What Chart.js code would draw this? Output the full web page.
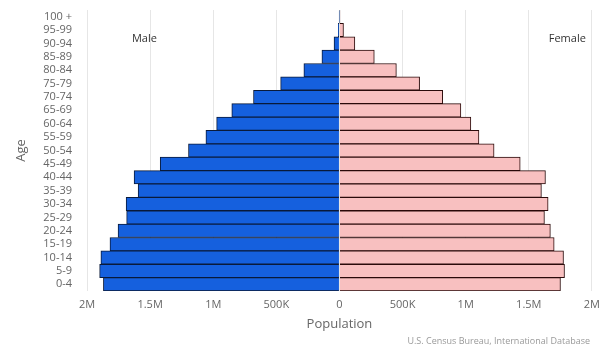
<!DOCTYPE html>
<html>
<head>
<meta charset="utf-8">
<script src="https://cdn.jsdelivr.net/npm/chart.js@4/dist/chart.umd.min.js"></script>
<style>
html,body{margin:0;padding:0;background:#fff;}
#wrap{position:relative;width:600px;height:350px;}
</style>
</head>
<body>
<div id="wrap"><canvas id="c" width="600" height="350"></canvas></div>
<script>
const ageGroups = ['100 +','95-99','90-94','85-89','80-84','75-79','70-74','65-69','60-64','55-59','50-54','45-49','40-44','35-39','30-34','25-29','20-24','15-19','10-14','5-9','0-4'];
const maleValues = [1500, 9000, 43000, 139000, 282000, 466000, 681000, 853000, 973000, 1058000, 1196000, 1420000, 1627000, 1595000, 1690000, 1686000, 1754000, 1818000, 1890000, 1900000, 1870000];
const femaleValues = [4000, 32000, 122000, 276000, 451000, 635000, 818000, 962000, 1041000, 1105000, 1225000, 1432000, 1632000, 1600000, 1653000, 1624000, 1671000, 1701000, 1775000, 1783000, 1751000];
const xTickValues = [-2000000,-1500000,-1000000,-500000,0,500000,1000000,1500000,2000000];
const seriesNames = ['Male','Female'];
const sourceText = 'U.S. Census Bureau, International Database';

const FONT = "'Open Sans', 'DejaVu Sans', sans-serif";

function fmt(v){
  const a = Math.abs(v);
  if (a === 0) return '0';
  if (a >= 1000000) return (a/1000000) + 'M';
  return (a/1000) + 'K';
}

const annotations = {
  id: 'annotations',
  afterDraw(chart){
    const ctx = chart.ctx;
    const xs = chart.scales.x;
    const area = chart.chartArea;
    ctx.save();
    ctx.font = "11px " + FONT;
    ctx.fillStyle = '#333';
    ctx.textAlign = 'center';
    ctx.textBaseline = 'middle';
    ctx.fillText(seriesNames[0], xs.getPixelForValue(-1545000), area.top + 29);
    ctx.fillText(seriesNames[1], xs.getPixelForValue(1805000), area.top + 29);
    ctx.font = "9px " + FONT;
    ctx.fillStyle = '#999';
    ctx.textAlign = 'right';
    ctx.fillText(sourceText, 590, 341);
    ctx.restore();
  }
};

new Chart(document.getElementById('c'), {
  type: 'bar',
  data: {
    labels: ageGroups,
    datasets: [
      { label: seriesNames[0], data: maleValues.map(v => -v), backgroundColor: '#1560de', borderColor: '#0a1a3a', borderWidth: 1, barPercentage: 1, categoryPercentage: 1 },
      { label: seriesNames[1], data: femaleValues, backgroundColor: '#f8c0c0', borderColor: '#2a0a0a', borderWidth: 1, barPercentage: 1, categoryPercentage: 1 }
    ]
  },
  options: {
    indexAxis: 'y',
    responsive: false,
    animation: false,
    layout: { padding: { top: 10, right: 2, bottom: 0, left: 0 } },
    plugins: { legend: { display: false }, tooltip: { enabled: false } },
    scales: {
      x: {
        stacked: true,
        min: -2000000, max: 2000000,
        afterBuildTicks(scale){ scale.ticks = xTickValues.map(v => ({ value: v })); },
        afterFit(scale){ scale.height = 59; },
        grid: { color: '#e6e6e6', drawTicks: true, tickLength: 7, tickColor: 'rgba(0,0,0,0)' },
        border: { display: false },
        ticks: { padding: 0, color: '#666', font: { family: FONT, size: 11 }, callback: v => fmt(v), maxRotation: 0 },
        title: { display: true, text: 'Population', color: '#666', font: { family: FONT, size: 13 }, padding: { top: 0, bottom: 18 } }
      },
      y: {
        stacked: true,
        afterFit(scale){ scale.width = 87; },
        grid: { display: false, drawTicks: true, tickLength: 15 },
        border: { display: false },
        ticks: { padding: 0, color: '#666', font: { family: FONT, size: 11 }, autoSkip: false },
        title: { display: true, text: 'Age', color: '#666', font: { family: FONT, size: 13 }, padding: { top: 13, bottom: 0 } }
      }
    }
  },
  plugins: [annotations]
});
</script>
</body>
</html>
